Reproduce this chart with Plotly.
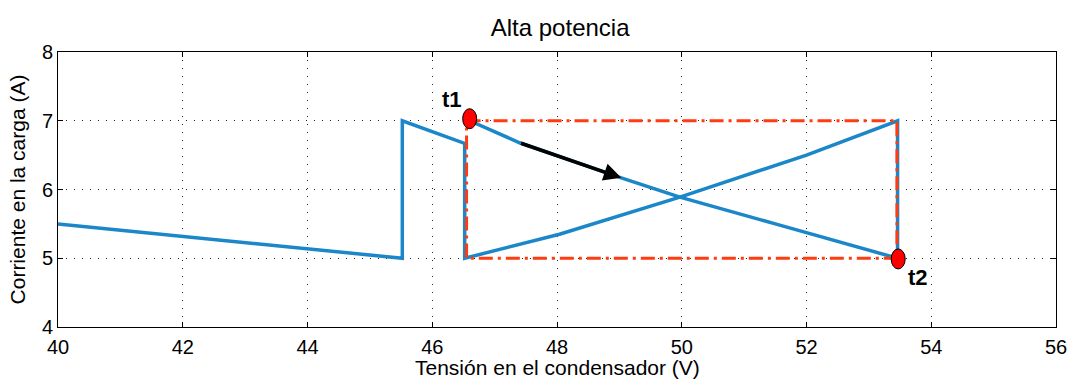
import plotly.graph_objects as go

# Trajectory (capacitor voltage V, load current A)
traj_x = [40.0, 45.52, 45.52, 46.52, 46.52, 48.04, 49.97, 52.0, 53.46, 53.46, None,
          46.6, 47.4, 49.03, 49.97, 51.5, 53.46]
traj_y = [5.5, 5.0, 7.0, 6.67, 5.0, 5.35, 5.89, 6.5, 7.0, 5.0, None,
          7.0, 6.68, 6.17, 5.89, 5.5, 5.0]

# Dashed rectangle corners
rect_x = [46.55, 53.45, 53.45, 46.55, 46.55]
rect_y = [7.0, 7.0, 5.0, 5.0, 7.0]

# Marked points
pt_names = ["t1", "t2"]
pt_x = [46.6, 53.47]
pt_y = [7.03, 4.99]

# Arrow
arrow_x = [47.4, 49.03]
arrow_y = [6.68, 6.17]

x_ticks = [40, 42, 44, 46, 48, 50, 52, 54, 56]
y_ticks = [4, 5, 6, 7, 8]

fig = go.Figure()
fig.add_trace(go.Scatter(x=traj_x, y=traj_y, mode="lines",
                         line=dict(color="#1b87c9", width=3.5), connectgaps=False))
fig.add_trace(go.Scatter(x=rect_x, y=rect_y, mode="lines",
                         line=dict(color="#ff3b0f", width=3, dash="14px,5px,3px,5px")))

for px, py in zip(pt_x, pt_y):
    fig.add_shape(type="circle", xref="x", yref="y", xsizemode="pixel", ysizemode="pixel",
                  xanchor=px, yanchor=py, x0=-7, x1=7, y0=-10, y1=10,
                  fillcolor="#ff0000", line=dict(color="black", width=1))

fig.add_annotation(x=arrow_x[1], y=arrow_y[1], ax=arrow_x[0], ay=arrow_y[0],
                   xref="x", yref="y", axref="x", ayref="y", text="",
                   showarrow=True, arrowhead=2, arrowsize=1, arrowwidth=3.5, arrowcolor="black")

fig.add_annotation(x=pt_x[0], y=pt_y[0], text="<b>t1</b>", showarrow=False,
                   xshift=-18, yshift=19, font=dict(size=22, color="black", family="Liberation Sans"))
fig.add_annotation(x=pt_x[1], y=pt_y[1], text="<b>t2</b>", showarrow=False,
                   xshift=20, yshift=-19, font=dict(size=22, color="black", family="Liberation Sans"))

# x-axis title placed as annotation below tick labels
fig.add_annotation(x=0.5, y=-54 / 275, xref="paper", yref="paper", xanchor="center", yanchor="bottom",
                   text="Tensión en el condensador (V)", showarrow=False,
                   font=dict(size=21, family="Liberation Sans", color="black"))

axis_common = dict(showline=True, linecolor="black", linewidth=1, mirror="ticks",
                   ticks="inside", ticklen=5, tickcolor="black",
                   showgrid=True, gridcolor="#222", griddash="1px,7px", gridwidth=1,
                   zeroline=False, automargin=False)

fig.update_layout(
    width=1071, height=381,
    margin=dict(l=58, r=15, t=52, b=54),
    paper_bgcolor="white", plot_bgcolor="white",
    showlegend=False,
    title=dict(text="Alta potencia", x=0.523, xanchor="center", y=0.928, yanchor="middle",
               font=dict(size=24, family="Liberation Sans", color="black")),
    xaxis=dict(range=[40, 56], tickvals=x_ticks, ticktext=[str(v) for v in x_ticks],
               tickfont=dict(size=20, family="Liberation Sans", color="black"),
               ticklabelstandoff=2,
               **axis_common),
    yaxis=dict(range=[4, 8], tickvals=y_ticks, ticktext=[str(v) for v in y_ticks],
               tickfont=dict(size=20, family="Liberation Sans", color="black"),
               title=dict(text="Corriente en la carga (A)", standoff=10,
                          font=dict(size=21, family="Liberation Sans", color="black")),
               **axis_common),
)

fig.write_html("out.html")
